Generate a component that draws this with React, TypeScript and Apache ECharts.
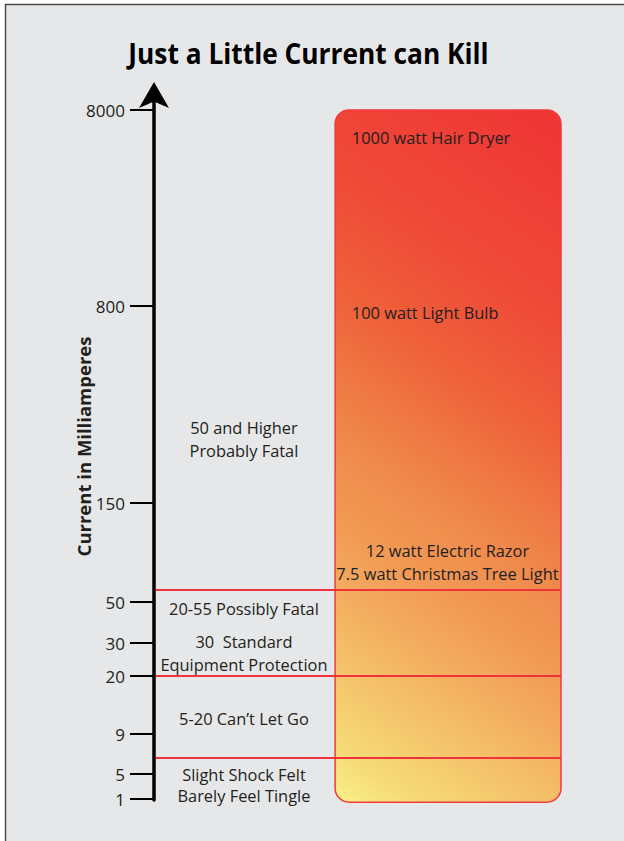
import React, { useEffect, useRef } from "react";
import * as echarts from "echarts";

const TITLE = "Just a Little Current can Kill";
const AXIS_NAME = "Current in Milliamperes";

// y-axis tick labels (mA) and their places along the stylised, non-uniform axis
const tickValues = [1, 5, 9, 20, 30, 50, 150, 800, 8000];
const tickRanks = [1, 26, 66, 124, 157, 198, 297, 494, 690];
const AXIS_MAX_RANK = 707;

// threshold lines (mA)
const thresholds = [6.6, 20, 62];

// body effects (left column) and the current level each sits at
const effectTexts = [
  "50 and Higher\nProbably Fatal",
  "20-55 Possibly Fatal",
  "30  Standard\nEquipment Protection",
  "5-20 Can\u2019t Let Go",
  "Slight Shock Felt",
  "Barely Feel Tingle",
];
const effectLevels = [360, 47, 27, 12, 5, 1.5];

// appliances (right column) and their current level
const applianceTexts = [
  "1000 watt Hair Dryer",
  "100 watt Light Bulb",
  "12 watt Electric Razor\n7.5 watt Christmas Tree Light",
];
const applianceLevels = [7000, 780, 90];

// current range covered by the gradient column
const columnRange = [0.5, 8000];

function toRank(v: number): number {
  const n = tickValues.length;
  let i = 0;
  if (v <= tickValues[0]) i = 0;
  else if (v >= tickValues[n - 1]) i = n - 2;
  else {
    while (i < n - 2 && v > tickValues[i + 1]) i++;
  }
  const v0 = tickValues[i], v1 = tickValues[i + 1];
  const r0 = tickRanks[i], r1 = tickRanks[i + 1];
  return r0 + ((v - v0) / (v1 - v0)) * (r1 - r0);
}

const FONT = '"Open Sans", "Noto Sans", sans-serif';
const TEXT_COLOR = "#231f20";
const LINE_RED = "#ee3438";
const gradStops = [
  { offset: 0, color: "#faf28a" },
  { offset: 0.06, color: "#f6dc78" },
  { offset: 0.25, color: "#f3ad5f" },
  { offset: 0.33, color: "#f29a55" },
  { offset: 0.43, color: "#ef8a4b" },
  { offset: 0.61, color: "#ef6039" },
  { offset: 0.74, color: "#ef4b38" },
  { offset: 1, color: "#ef3434" },
];

export default function App() {
  const ref = useRef<HTMLDivElement>(null);
  useEffect(() => {
    if (!ref.current) return;
    const chart = echarts.init(ref.current, null, { renderer: "svg" });
    const COL_X0 = 44.5;
    const LEFT_X = 22.1;
    const RIGHT_LEFT_X = 48.6;
    const RIGHT_CENTER_X = 72.1;
    const BODY_SIZE = 16.4;

    const option: any = {
      animation: false,
      backgroundColor: "#e6e7e8",
      grid: { left: 154, right: 63, top: 93, bottom: 41 },
      xAxis: { type: "value", min: 0, max: 100, show: false },
      yAxis: {
        type: "value",
        min: 0,
        max: AXIS_MAX_RANK,
        name: AXIS_NAME,
        nameLocation: "middle",
        nameRotate: 90,
        nameGap: 61,
        nameMoveOverlap: false,
        nameTextStyle: { fontFamily: FONT, fontWeight: "bold", fontSize: 18.5, color: TEXT_COLOR },
        axisLine: {
          show: true,
          onZero: false,
          symbol: ["none", "arrow"],
          symbolSize: [22.5, 26],
          symbolOffset: [0, 11],
          lineStyle: { color: "#000", width: 3.5 },
        },
        axisTick: {
          show: true,
          inside: false,
          length: 24,
          customValues: tickRanks,
          lineStyle: { color: "#000", width: 2 },
        },
        axisLabel: {
          customValues: tickRanks,
          margin: 29,
          fontFamily: FONT,
          fontSize: 17,
          color: TEXT_COLOR,
          formatter: (v: number) => {
            const i = tickRanks.indexOf(v);
            return i >= 0 ? String(tickValues[i]) : "";
          },
        },
        splitLine: { show: false },
      },
      graphic: {
        elements: [
          { type: "rect", shape: { x: 0, y: 0, width: 624, height: 4 }, style: { fill: "#fff" }, silent: true },
          { type: "rect", shape: { x: 0, y: 0, width: 5, height: 841 }, style: { fill: "#fff" }, silent: true },
          {
            type: "polyline",
            shape: { points: [[5.5, 841], [5.5, 4.5], [624, 4.5]] },
            style: { stroke: "#4a4a4a", lineWidth: 1.5, fill: "none" },
            silent: true,
          },
          {
            type: "text",
            x: 308.5,
            y: 53,
            scaleX: 0.94,
            style: {
              text: TITLE,
              font: `bold 28px ${FONT}`,
              fill: "#000",
              align: "center",
              verticalAlign: "middle",
            },
          },
        ],
      },
      series: [
        {
          type: "custom",
          z: 1,
          data: [columnRange],
          renderItem: (params: any, api: any) => {
            const lo = toRank(api.value(0));
            const hi = toRank(api.value(1));
            const p0 = api.coord([COL_X0, hi]);
            const p1 = api.coord([100, lo]);
            const x = p0[0], y = p0[1];
            const w = p1[0] - p0[0], h = p1[1] - p0[1];
            const L = 0.566 * w + 0.825 * h;
            const grad = new echarts.graphic.LinearGradient(
              x, y + h, x + 0.566 * L, y + h - 0.825 * L, gradStops, true
            );
            return {
              type: "rect",
              shape: { x, y, width: w, height: h, r: 14 },
              style: { fill: grad, stroke: "#ef3b3b", lineWidth: 1.5 },
            };
          },
        },
        {
          type: "custom",
          z: 3,
          data: thresholds.map((t) => [t]),
          renderItem: (params: any, api: any) => {
            const r = toRank(api.value(0));
            const a = api.coord([0, r]);
            const b = api.coord([100, r]);
            return {
              type: "line",
              shape: { x1: a[0] + 2, y1: a[1], x2: b[0], y2: b[1] },
              style: { stroke: LINE_RED, lineWidth: 2 },
            };
          },
        },
        {
          type: "custom",
          z: 4,
          data: effectLevels.map((l, i) => [i, l]),
          renderItem: (params: any, api: any) => {
            const i = api.value(0);
            const p = api.coord([LEFT_X, toRank(api.value(1))]);
            return {
              type: "text",
              x: p[0],
              y: p[1],
              style: {
                text: effectTexts[i],
                fontFamily: FONT,
                fontSize: BODY_SIZE,
                lineHeight: 23,
                fill: TEXT_COLOR,
                align: "center",
                verticalAlign: "middle",
              },
            };
          },
        },
        {
          type: "custom",
          z: 4,
          data: applianceLevels.map((l, i) => [i, l]),
          renderItem: (params: any, api: any) => {
            const i = api.value(0);
            const centered = applianceTexts[i].indexOf("\n") >= 0;
            const p = api.coord([centered ? RIGHT_CENTER_X : RIGHT_LEFT_X, toRank(api.value(1))]);
            return {
              type: "text",
              x: p[0],
              y: p[1],
              style: {
                text: applianceTexts[i],
                fontFamily: FONT,
                fontSize: BODY_SIZE,
                lineHeight: 23,
                fill: TEXT_COLOR,
                align: centered ? "center" : "left",
                verticalAlign: "middle",
              },
            };
          },
        },
      ],
    };
    chart.setOption(option);
    return () => chart.dispose();
  }, []);
  return (
    <div
      ref={ref}
      style={{ position: "fixed", left: 0, top: 0, width: 624, height: 841 }}
    />
  );
}
